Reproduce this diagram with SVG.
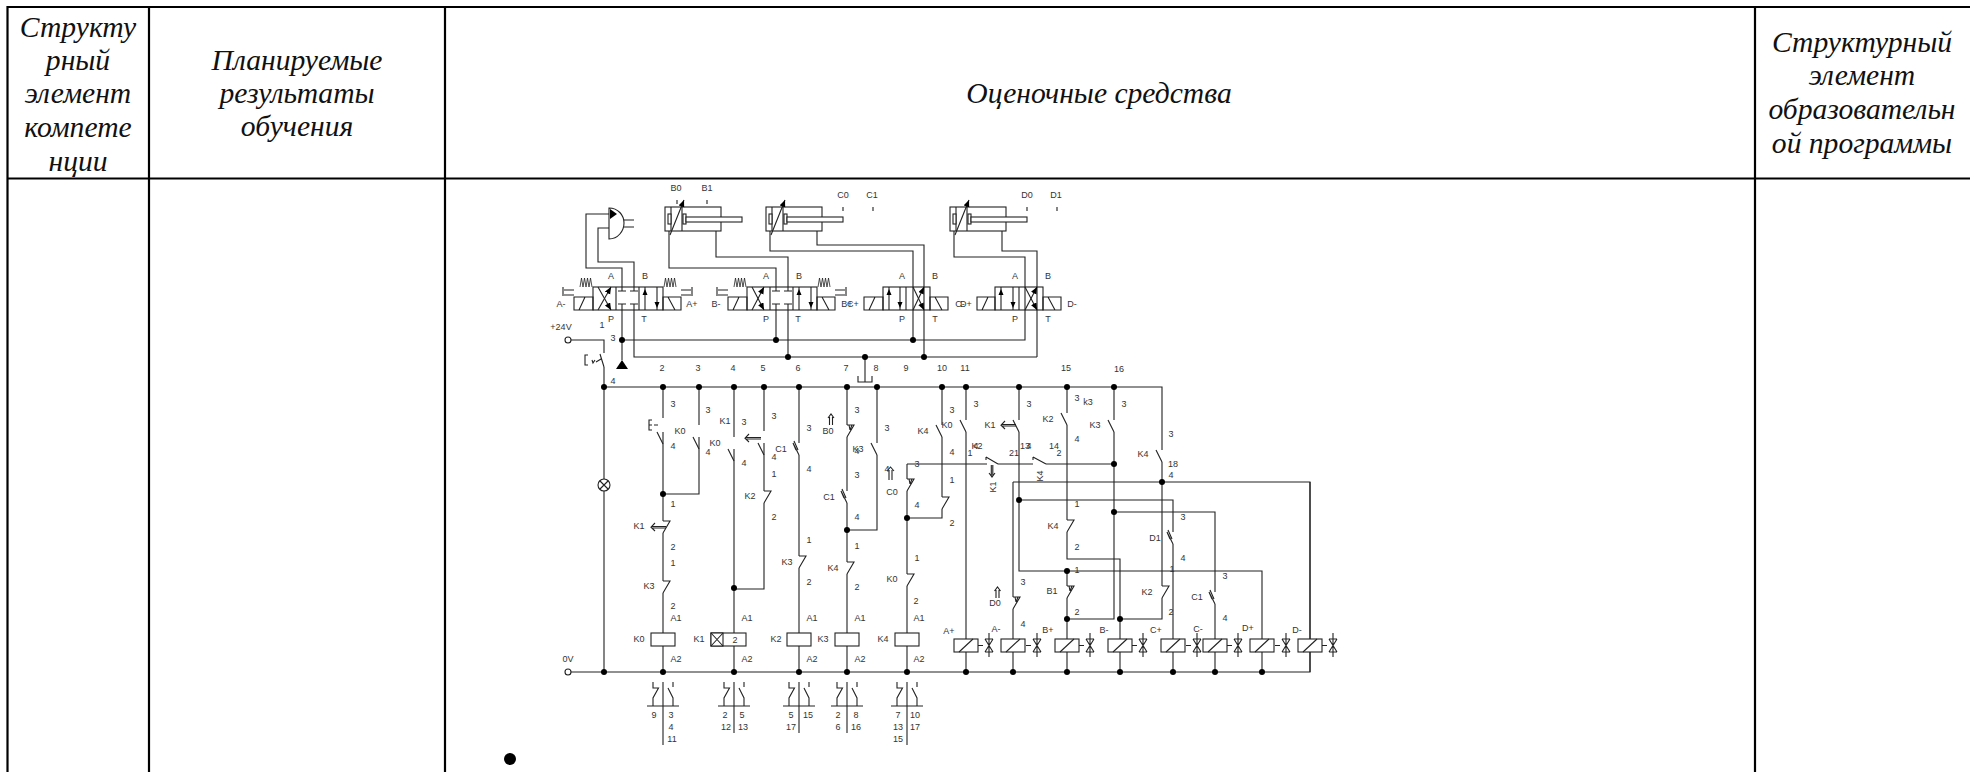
<svg xmlns="http://www.w3.org/2000/svg" width="1970" height="772" viewBox="0 0 1970 772">
<style>
.h{font:italic 29.6px "Liberation Serif",serif;fill:#111;text-anchor:middle}
text.l{font:9px "Liberation Sans",Arial,sans-serif;fill:#333;text-anchor:middle}
.s{fill:none;stroke:#222;stroke-width:1.1}
.w{fill:#fff;stroke:#222;stroke-width:1.1}
.b{fill:#000;stroke:none}
.t{stroke:#000;stroke-width:2.2;fill:none}
</style>
<defs>
<marker id="ah" markerUnits="userSpaceOnUse" markerWidth="8" markerHeight="8" refX="7" refY="3" orient="auto"><path d="M0 0L7 3L0 6z" fill="#000"/></marker>
<circle id="d" r="3" fill="#000"/>
<g id="coil"><rect class="w" x="-12" y="0" width="24" height="13"/><path class="s" d="M-7 13L7 0"/></g>
<g id="mv"><path class="s" d="M-11 6.500H-6M0 -6V18M-4 0L4 13M4 0L-4 13M-4 0H4M-4 13H4" /></g>
<g id="relay"><rect class="w" x="-12" y="0" width="24" height="13"/></g>
<g id="cyl">
<rect class="w" x="0" y="0" width="56" height="24"/>
<path class="s" d="M6 0V24M17 0V24"/>
<rect class="w" x="3" y="7" width="3" height="10"/>
<rect class="w" x="18" y="7" width="3" height="10"/>
<rect class="w" x="21" y="10" width="56" height="5"/>
<path class="s" d="M5 28L19 -7" marker-end="url(#ah)"/>
</g>
<path id="no" class="s" d="M-6 0L0 12"/>
<path id="nc" class="s" d="M0 0H7L0 12"/>
<path id="ncr" class="s" d="M0 0H7L0 12M2 0L3 5M5 0L3 5"/>
<path id="rl" class="s" d="M-6 0L0 12M-6 0L-3 7M-5 -2L-1 7"/>
<path id="up" class="b" d="M0 0l-2.500 6h5z"/>
<path id="dn" class="b" d="M0 0l-2.500 -6h5z"/>
<path id="spr" d="M0 0L1.500 -9L3 0L4.500 -9L6 0L7.500 -9L9 0L10.500 -9L12 0" fill="none" stroke="#222" stroke-width=".8"/>
<g id="tab"><path class="s" d="M0 10V61M-16 34H16M-10 34V26L-4.500 16H-10V10M10 34V26L5 16M10 10V15"/></g>
</defs>

<g id="table">
<path class="t" d="M6.400 7H1970M6.400 178.500H1970M7.500 7V772M149 7V772M445 7V772M1755 7V772"/>
</g>

<g id="header-texts">
<text class="h" x="78" y="37">Структу</text>
<text class="h" x="78" y="70">рный</text>
<text class="h" x="78" y="103">элемент</text>
<text class="h" x="78" y="137">компете</text>
<text class="h" x="78" y="171">нции</text>
<text class="h" x="297" y="70">Планируемые</text>
<text class="h" x="297" y="103">результаты</text>
<text class="h" x="297" y="136">обучения</text>
<text class="h" x="1099" y="103">Оценочные средства</text>
<text class="h" x="1862" y="52">Структурный</text>
<text class="h" x="1862" y="85">элемент</text>
<text class="h" x="1862" y="119">образовательн</text>
<text class="h" x="1862" y="153">ой программы</text>
</g>
<circle id="bullet" cx="510" cy="759" r="6" fill="#000"/>

<g id="connectors" class="s">
<path d="M622 287V268H586V214H609M634 287V262H598V228H609"/>
<path d="M669 231V268H776V287M716 231V257H788V287"/>
<path d="M770 231V251H913V310M817 231V245H924V310"/>
<path d="M954 231V257H1025V310M1002 231V251H1037V310"/>
<path d="M622 310V360M634 310V357H1037M622 340H1025V310M776 310V340M788 310V357M913 310V340M924 310V357M1037 357V310"/>
<path d="M865 357V382M858 376V382H872V376"/>
<path d="M571 340H604V353M604 367V672"/>
<path d="M604 387H1162V450"/>
<path d="M571 672H1310V482H1013"/>
<path d="M663 387V418M663 432V521M663 533V581M663 593V633M663 646V672M699 387V425M699 437V494H663"/>
<path d="M734 387V437M734 449V633M734 646V672"/>
<path d="M764 387V431M764 443V491M764 503V589H734"/>
<path d="M799 387V443M799 455V556M799 568V633M799 646V672"/>
<path d="M847 387V425M847 437V491M847 503V562M847 574V633M847 646V672M877 387V443M877 455V530H847"/>
<path d="M907 464V479M907 491V574M907 586V633M907 646V672M907 518H942V509M942 497V437M942 387V425"/>
<path d="M907 464H987M998 464H1033M1046 464H1114"/>
<path d="M966 387V420M966 432V639M966 652V672"/>
<path d="M1019 387V420M1019 432V571H1262V639M1262 652V672M1019 500H1173V532M1173 544V639M1173 652V672"/>
<path d="M1067 387V413M1067 425V520M1067 532V559H1120V639M1120 652V672"/>
<path d="M1067 571V586M1067 598V639M1067 652V672"/>
<path d="M1067 619H1114V432M1114 387V420M1114 512H1215V592M1215 604V639M1215 652V672"/>
<path d="M1120 619H1162V598M1162 586V462"/>
<path d="M1013 482V597M1013 609V639M1013 652V672"/>
<path d="M1310 482V639M1310 652V672"/>
</g>

<g id="junctions">
<use href="#d" x="622" y="340"/><use href="#d" x="776" y="340"/><use href="#d" x="913" y="340"/>
<use href="#d" x="788" y="357"/><use href="#d" x="865" y="357"/><use href="#d" x="924" y="357"/>
<use href="#d" x="604" y="387"/><use href="#d" x="663" y="387"/><use href="#d" x="699" y="387"/><use href="#d" x="734" y="387"/><use href="#d" x="764" y="387"/><use href="#d" x="799" y="387"/><use href="#d" x="847" y="387"/><use href="#d" x="877" y="387"/><use href="#d" x="942" y="387"/><use href="#d" x="966" y="387"/><use href="#d" x="1019" y="387"/><use href="#d" x="1067" y="387"/><use href="#d" x="1114" y="387"/>
<use href="#d" x="663" y="494"/><use href="#d" x="734" y="588"/><use href="#d" x="847" y="530"/><use href="#d" x="907" y="518"/>
<use href="#d" x="1114" y="464"/><use href="#d" x="1162" y="482"/><use href="#d" x="1019" y="500"/><use href="#d" x="1114" y="512"/><use href="#d" x="1067" y="571"/><use href="#d" x="1067" y="619"/><use href="#d" x="1120" y="619"/>
<use href="#d" x="604" y="672"/><use href="#d" x="663" y="672"/><use href="#d" x="734" y="672"/><use href="#d" x="799" y="672"/><use href="#d" x="847" y="672"/><use href="#d" x="907" y="672"/><use href="#d" x="966" y="672"/><use href="#d" x="1013" y="672"/><use href="#d" x="1067" y="672"/><use href="#d" x="1120" y="672"/><use href="#d" x="1173" y="672"/><use href="#d" x="1215" y="672"/><use href="#d" x="1262" y="672"/>
</g>

<g id="shuttle-valve">
<path class="w" d="M609 208V239C618 239 624 231 624 223C624 215 618 208 609 208Z"/>
<path class="b" d="M610 209L617 214L610 219Z"/>
<path class="s" d="M624 220H634M624 227H634"/>
</g>

<g id="cylinder-b"><use href="#cyl" x="665" y="207"/></g>
<g id="cylinder-c"><use href="#cyl" x="766" y="207"/></g>
<g id="cylinder-d"><use href="#cyl" x="950" y="207"/></g>

<g id="valve-a" class="s">
<rect x="593" y="287" width="70" height="23"/><path d="M616 287V310M639 287V310"/>
<path d="M574 297H593V310H574ZM579 310L585 297M663 297H681V310H663ZM668 297L675 310"/>
<use href="#spr" x="580" y="287"/><use href="#spr" x="664" y="287"/>
<path d="M574 295H564M574 290H564M563 287V296M681 295H691M681 290H691M692 287V296"/>
<path d="M598 310L611 287" marker-end="url(#ah)"/><path d="M598 287L611 310" marker-end="url(#ah)"/>
<path d="M622 287V291M618 291H626M634 287V291M630 291H638M622 310V304M618 304H626M634 310V304M630 304H638"/>
<path d="M645 287V310M657 287V310"/><use href="#up" x="645" y="289"/><use href="#dn" x="657" y="308"/>
</g>
<g id="valve-b" class="s">
<rect x="747" y="287" width="70" height="23"/><path d="M770 287V310M793 287V310"/>
<path d="M728 297H747V310H728ZM733 310L739 297M817 297H835V310H817ZM822 297L829 310"/>
<use href="#spr" x="734" y="287"/><use href="#spr" x="818" y="287"/>
<path d="M728 295H718M728 290H718M717 287V296M835 295H845M835 290H845M846 287V296"/>
<path d="M752 310L764 287" marker-end="url(#ah)"/><path d="M752 287L764 310" marker-end="url(#ah)"/>
<path d="M776 287V291M772 291H780M788 287V291M784 291H792M776 310V304M772 304H780M788 310V304M784 304H792"/>
<path d="M799 287V310M811 287V310"/><use href="#up" x="799" y="289"/><use href="#dn" x="811" y="308"/>
</g>
<g id="valve-c" class="s">
<rect x="883" y="287" width="47" height="23"/><path d="M906 287V310"/>
<path d="M864 297H883V310H864ZM869 310L875 297M930 297H948V310H930ZM935 297L942 310"/>
<path d="M913 310L924 287" marker-end="url(#ah)"/><path d="M913 287L924 310" marker-end="url(#ah)"/>
<path d="M889 287V310M900 287V310"/><use href="#up" x="889" y="289"/><use href="#dn" x="900" y="308"/>
</g>
<g id="valve-d" class="s">
<rect x="995" y="287" width="48" height="23"/><path d="M1019 287V310"/>
<path d="M977 297H995V310H977ZM982 310L988 297M1043 297H1061V310H1043ZM1048 297L1055 310"/>
<path d="M1025 310L1037 287" marker-end="url(#ah)"/><path d="M1025 287L1037 310" marker-end="url(#ah)"/>
<path d="M1001 287V310M1013 287V310"/><use href="#up" x="1001" y="289"/><use href="#dn" x="1013" y="308"/>
</g>
<g id="tops" class="s">
<path d="M677 200V204M707 200V204M843 207V211M873 207V211M1027 207V211M1057 207V211"/>
</g>
<g id="supply">
<circle class="w" cx="568" cy="340" r="3"/>
<circle class="w" cx="568" cy="672" r="3"/>
<path class="b" d="M622 360L628 369H616Z"/>
<path class="s" d="M600 354L604 367M588 355H585V365H588M592 360L593 363L595 360M596 362L601 359"/>
<circle class="w" cx="604" cy="485" r="6"/><path class="s" d="M600 481L608 489M608 481L600 489"/>
</g>

<g id="contacts" class="s">
<use href="#no" x="663" y="432"/><path d="M652 420H649V430H652M649 425H652M654 425H658"/>
<use href="#no" x="699" y="437"/>
<use href="#nc" x="663" y="521"/><path d="M652 526.500H666M652 528H666M655 523L651 527.200L655 531"/>
<use href="#nc" x="663" y="581"/>
<use href="#no" x="734" y="449"/>
<use href="#no" x="764" y="443"/><path d="M746 437.500H761M746 439H761M749 434L745 438.200L749 442"/>
<use href="#nc" x="764" y="491"/>
<use href="#rl" x="799" y="443"/><use href="#nc" x="799" y="556"/>
<use href="#ncr" x="847" y="425"/>
<use href="#rl" x="847" y="491"/><use href="#nc" x="847" y="562"/>
<use href="#no" x="877" y="443"/>
<use href="#ncr" x="907" y="479"/><use href="#nc" x="907" y="574"/>
<use href="#no" x="942" y="425"/><use href="#nc" x="942" y="497"/>
<use href="#no" x="966" y="420"/>
<use href="#no" x="1019" y="420"/><path d="M1002 424.500H1016M1002 426H1016M1005 421L1001 425.200L1005 429"/>
<use href="#no" x="1067" y="413"/><use href="#nc" x="1067" y="520"/>
<use href="#no" x="1114" y="420"/>
<use href="#no" x="1162" y="450"/>
<use href="#rl" x="1173" y="532"/><use href="#ncr" x="1067" y="586"/><use href="#nc" x="1162" y="586"/>
<use href="#rl" x="1215" y="592"/><use href="#ncr" x="1013" y="597"/>
<path d="M986 457L998 464M986 457V460M1033 457L1046 464M1033 457V460"/>
<path d="M991.300 465V476M992.800 465V476M989 473L992 477L995 473"/>
<path d="M829.500 425V417M832.500 425V417M828 418L831 414L834 418"/>
<path d="M889 480V470M892 480V470M887 471L890.500 467L894 471"/>
<path d="M996 598V590M999 598V590M994.500 591L997.500 587L1000.500 591"/>
</g>

<g id="relay-k0"><use href="#relay" x="663" y="633"/><use href="#tab" x="663" y="672"/></g>
<g id="relay-k1"><rect class="w" x="711" y="633" width="35" height="13"/><rect class="w" x="711" y="633" width="12" height="13"/><path class="s" d="M711 633L723 646M723 633L711 646"/><use href="#tab" x="734" y="672"/></g>
<g id="relay-k2"><use href="#relay" x="799" y="633"/><use href="#tab" x="799" y="672"/></g>
<g id="relay-k3"><use href="#relay" x="847" y="633"/><use href="#tab" x="847" y="672"/></g>
<g id="relay-k4"><use href="#relay" x="907" y="633"/><use href="#tab" x="907" y="672"/></g>
<path class="s" d="M663 733V745M907 733V745" id="tab-ext"/>

<g id="sol-a-plus"><use href="#coil" x="966" y="639"/><use href="#mv" x="989" y="639"/></g>
<g id="sol-a-minus"><use href="#coil" x="1013" y="639"/><use href="#mv" x="1037" y="639"/></g>
<g id="sol-b-plus"><use href="#coil" x="1067" y="639"/><use href="#mv" x="1090" y="639"/></g>
<g id="sol-b-minus"><use href="#coil" x="1120" y="639"/><use href="#mv" x="1143" y="639"/></g>
<g id="sol-c-plus"><use href="#coil" x="1173" y="639"/><use href="#mv" x="1197" y="639"/></g>
<g id="sol-c-minus"><use href="#coil" x="1215" y="639"/><use href="#mv" x="1238" y="639"/></g>
<g id="sol-d-plus"><use href="#coil" x="1262" y="639"/><use href="#mv" x="1286" y="639"/></g>
<g id="sol-d-minus"><use href="#coil" x="1310" y="639"/><use href="#mv" x="1333" y="639"/></g>

<g id="labels">
<text class="l" x="676" y="191">B0</text><text class="l" x="707" y="191">B1</text><text class="l" x="843" y="198">C0</text><text class="l" x="872" y="198">C1</text><text class="l" x="1027" y="198">D0</text><text class="l" x="1056" y="198">D1</text>
<text class="l" x="611" y="279">A</text><text class="l" x="645" y="279">B</text><text class="l" x="766" y="279">A</text><text class="l" x="799" y="279">B</text><text class="l" x="902" y="279">A</text><text class="l" x="935" y="279">B</text><text class="l" x="1015" y="279">A</text><text class="l" x="1048" y="279">B</text>
<text class="l" x="611" y="322">P</text><text class="l" x="644" y="322">T</text><text class="l" x="766" y="322">P</text><text class="l" x="798" y="322">T</text><text class="l" x="902" y="322">P</text><text class="l" x="935" y="322">T</text><text class="l" x="1015" y="322">P</text><text class="l" x="1048" y="322">T</text>
<text class="l" x="561" y="307">A-</text><text class="l" x="692" y="307">A+</text><text class="l" x="716" y="307">B-</text><text class="l" x="847" y="307">B+</text><text class="l" x="853" y="307">C+</text><text class="l" x="960" y="307">C-</text><text class="l" x="966" y="307">D+</text><text class="l" x="1072" y="307">D-</text>
<text class="l" x="561" y="330">+24V</text><text class="l" x="602" y="328">1</text><text class="l" x="613" y="341">3</text><text class="l" x="613" y="384">4</text>
<text class="l" x="662" y="371">2</text><text class="l" x="698" y="371">3</text><text class="l" x="733" y="371">4</text><text class="l" x="763" y="371">5</text><text class="l" x="798" y="371">6</text><text class="l" x="846" y="371">7</text><text class="l" x="876" y="371">8</text><text class="l" x="906" y="371">9</text><text class="l" x="942" y="371">10</text><text class="l" x="965" y="371">11</text><text class="l" x="1066" y="371">15</text><text class="l" x="1119" y="372">16</text>
<text class="l" x="673" y="407">3</text><text class="l" x="680" y="434">K0</text><text class="l" x="673" y="449">4</text><text class="l" x="708" y="413">3</text><text class="l" x="715" y="446">K0</text><text class="l" x="708" y="455">4</text><text class="l" x="725" y="424">K1</text><text class="l" x="744" y="425">3</text><text class="l" x="744" y="466">4</text>
<text class="l" x="774" y="419">3</text><text class="l" x="774" y="460">4</text><text class="l" x="774" y="477">1</text><text class="l" x="750" y="499">K2</text><text class="l" x="774" y="520">2</text>
<text class="l" x="809" y="431">3</text><text class="l" x="781" y="452">C1</text><text class="l" x="809" y="472">4</text><text class="l" x="809" y="543">1</text><text class="l" x="787" y="565">K3</text><text class="l" x="809" y="585">2</text>
<text class="l" x="828" y="434">B0</text><text class="l" x="857" y="413">3</text><text class="l" x="858" y="452">K3</text><text class="l" x="857" y="454">4</text><text class="l" x="857" y="478">3</text><text class="l" x="829" y="500">C1</text><text class="l" x="857" y="520">4</text><text class="l" x="857" y="549">1</text><text class="l" x="833" y="571">K4</text><text class="l" x="857" y="590">2</text>
<text class="l" x="673" y="507">1</text><text class="l" x="639" y="529">K1</text><text class="l" x="673" y="550">2</text><text class="l" x="673" y="566">1</text><text class="l" x="649" y="589">K3</text><text class="l" x="673" y="609">2</text>
<text class="l" x="676" y="621">A1</text><text class="l" x="639" y="642">K0</text><text class="l" x="676" y="662">A2</text><text class="l" x="747" y="621">A1</text><text class="l" x="699" y="642">K1</text><text class="l" x="735" y="643">2</text><text class="l" x="747" y="662">A2</text>
<text class="l" x="812" y="621">A1</text><text class="l" x="776" y="642">K2</text><text class="l" x="812" y="662">A2</text><text class="l" x="860" y="621">A1</text><text class="l" x="823" y="642">K3</text><text class="l" x="860" y="662">A2</text><text class="l" x="919" y="621">A1</text><text class="l" x="883" y="642">K4</text><text class="l" x="919" y="662">A2</text><text class="l" x="916" y="604">2</text>
<text class="l" x="568" y="662">0V</text>
<text class="l" x="887" y="431">3</text><text class="l" x="887" y="472">4</text><text class="l" x="892" y="495">C0</text><text class="l" x="917" y="467">3</text><text class="l" x="917" y="508">4</text><text class="l" x="917" y="561">1</text><text class="l" x="892" y="582">K0</text>
<text class="l" x="923" y="434">K4</text><text class="l" x="952" y="413">3</text><text class="l" x="947" y="428">K0</text><text class="l" x="952" y="455">4</text><text class="l" x="952" y="483">1</text><text class="l" x="952" y="526">2</text>
<text class="l" x="976" y="407">3</text><text class="l" x="990" y="428">K1</text><text class="l" x="970" y="456">1</text><text class="l" x="977" y="449">K2</text><text class="l" x="976" y="449">4</text>
<text class="l" x="1029" y="407">3</text><text class="l" x="1048" y="422">K2</text><text class="l" x="1077" y="401">3</text><text class="l" x="1088" y="405">k3</text><text class="l" x="1095" y="428">K3</text><text class="l" x="1124" y="407">3</text><text class="l" x="1077" y="442">4</text>
<text class="l" x="1014" y="456">21</text><text class="l" x="1025" y="449">13</text><text class="l" x="1029" y="449">4</text><text class="l" x="1054" y="449">14</text><text class="l" x="1059" y="456">2</text>
<text class="l" transform="translate(1043,476) rotate(-90)">K4</text><text class="l" transform="translate(996,487) rotate(-90)">K1</text>
<text class="l" x="1077" y="507">1</text><text class="l" x="1053" y="529">K4</text><text class="l" x="1077" y="550">2</text><text class="l" x="1077" y="573">1</text><text class="l" x="1023" y="585">3</text><text class="l" x="995" y="606">D0</text><text class="l" x="1023" y="627">4</text>
<text class="l" x="1143" y="457">K4</text><text class="l" x="1171" y="437">3</text><text class="l" x="1173" y="467">18</text><text class="l" x="1171" y="478">4</text><text class="l" x="1183" y="520">3</text><text class="l" x="1155" y="541">D1</text><text class="l" x="1183" y="561">4</text><text class="l" x="1172" y="572">1</text><text class="l" x="1147" y="595">K2</text><text class="l" x="1171" y="615">2</text><text class="l" x="1225" y="579">3</text><text class="l" x="1197" y="600">C1</text><text class="l" x="1225" y="621">4</text><text class="l" x="1052" y="594">B1</text><text class="l" x="1077" y="615">2</text>
<text class="l" x="949" y="634">A+</text><text class="l" x="996" y="632">A-</text><text class="l" x="1048" y="633">B+</text><text class="l" x="1104" y="633">B-</text><text class="l" x="1156" y="633">C+</text><text class="l" x="1198" y="632">C-</text><text class="l" x="1248" y="631">D+</text><text class="l" x="1297" y="633">D-</text>
<text class="l" x="654" y="718">9</text><text class="l" x="671" y="718">3</text><text class="l" x="671" y="730">4</text><text class="l" x="672" y="742">11</text>
<text class="l" x="725" y="718">2</text><text class="l" x="742" y="718">5</text><text class="l" x="726" y="730">12</text><text class="l" x="743" y="730">13</text>
<text class="l" x="791" y="718">5</text><text class="l" x="808" y="718">15</text><text class="l" x="791" y="730">17</text>
<text class="l" x="838" y="718">2</text><text class="l" x="856" y="718">8</text><text class="l" x="838" y="730">6</text><text class="l" x="856" y="730">16</text>
<text class="l" x="898" y="718">7</text><text class="l" x="915" y="718">10</text><text class="l" x="898" y="730">13</text><text class="l" x="915" y="730">17</text><text class="l" x="898" y="742">15</text>
</g>
</svg>
